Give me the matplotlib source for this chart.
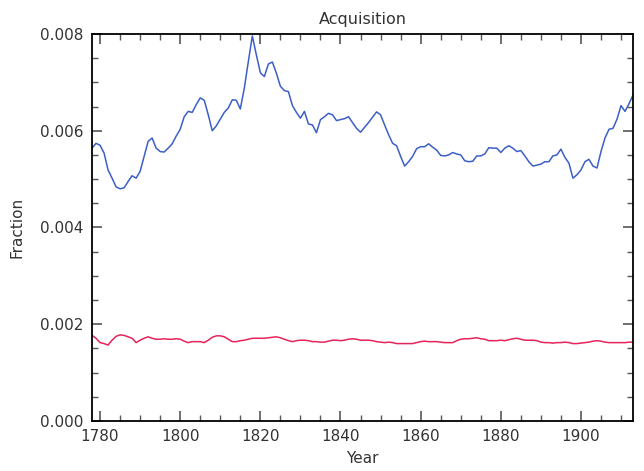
import numpy as np
import matplotlib
matplotlib.use('Agg')
import matplotlib.pyplot as plt
from matplotlib.ticker import MultipleLocator, FormatStrFormatter

# Jahre 1778..1913, Werte in Einheiten von 1e-3
years = np.arange(1778, 1914)

blue = [5.64, 5.74, 5.70, 5.54, 5.19, 5.02, 4.84, 4.80, 4.82, 4.95,
        5.07, 5.02, 5.16, 5.47, 5.78, 5.85, 5.64, 5.57, 5.56, 5.64,
        5.73, 5.89, 6.03, 6.29, 6.40, 6.38, 6.54, 6.68, 6.63, 6.33,
        6.00, 6.10, 6.24, 6.38, 6.47, 6.64, 6.63, 6.45, 6.88, 7.43,
        7.96, 7.57, 7.20, 7.12, 7.38, 7.42, 7.19, 6.92, 6.83, 6.81,
        6.52, 6.38, 6.26, 6.40, 6.14, 6.12, 5.96, 6.23, 6.29, 6.36,
        6.33, 6.21, 6.23, 6.25, 6.29, 6.17, 6.05, 5.97, 6.07, 6.17,
        6.28, 6.39, 6.33, 6.12, 5.92, 5.74, 5.69, 5.47, 5.27, 5.36,
        5.47, 5.63, 5.67, 5.67, 5.73, 5.66, 5.60, 5.49, 5.48, 5.50,
        5.55, 5.52, 5.50, 5.38, 5.36, 5.37, 5.48, 5.48, 5.52, 5.65,
        5.64, 5.64, 5.55, 5.64, 5.69, 5.64, 5.57, 5.59, 5.48, 5.36,
        5.27, 5.29, 5.31, 5.36, 5.36, 5.48, 5.50, 5.62, 5.45, 5.33,
        5.02, 5.09, 5.19, 5.36, 5.41, 5.27, 5.23, 5.57, 5.85, 6.03,
        6.05, 6.24, 6.52, 6.40, 6.56, 6.74]

red = [1.77, 1.71, 1.62, 1.60, 1.57, 1.67, 1.75, 1.78, 1.77, 1.74,
       1.71, 1.62, 1.67, 1.71, 1.74, 1.71, 1.69, 1.69, 1.70, 1.69,
       1.69, 1.70, 1.69, 1.65, 1.62, 1.64, 1.64, 1.64, 1.62, 1.67,
       1.73, 1.76, 1.76, 1.74, 1.69, 1.64, 1.64, 1.66, 1.67, 1.69,
       1.71, 1.71, 1.71, 1.71, 1.72, 1.73, 1.74, 1.72, 1.69, 1.66,
       1.64, 1.66, 1.67, 1.67, 1.66, 1.64, 1.64, 1.63, 1.63, 1.65,
       1.67, 1.67, 1.66, 1.67, 1.69, 1.70, 1.69, 1.67, 1.67, 1.67,
       1.66, 1.64, 1.63, 1.62, 1.63, 1.62, 1.60, 1.60, 1.60, 1.60,
       1.60, 1.62, 1.64, 1.65, 1.64, 1.64, 1.64, 1.63, 1.62, 1.62,
       1.62, 1.66, 1.69, 1.70, 1.70, 1.71, 1.72, 1.70, 1.69, 1.66,
       1.66, 1.66, 1.67, 1.66, 1.68, 1.70, 1.71, 1.69, 1.67, 1.67,
       1.67, 1.66, 1.63, 1.62, 1.62, 1.61, 1.62, 1.62, 1.63, 1.62,
       1.60, 1.60, 1.61, 1.62, 1.63, 1.65, 1.66, 1.65, 1.63, 1.62,
       1.62, 1.62, 1.62, 1.62, 1.63, 1.63]

blue = np.array(blue) * 1e-3
red = np.array(red) * 1e-3

fig = plt.figure(figsize=(6.44, 4.71), dpi=100)
ax = fig.add_axes([0.1429, 0.1062, 0.8401, 0.8216])

ax.plot(years, blue, color='#3c5fc6', lw=1.1)
ax.plot(years, red, color='#e6245a', lw=1.1)

ax.set_xlim(1778, 1913)
ax.set_ylim(0, 0.008)
ax.xaxis.set_major_locator(MultipleLocator(20))
ax.xaxis.set_minor_locator(MultipleLocator(5))
ax.yaxis.set_major_locator(MultipleLocator(0.002))
ax.yaxis.set_minor_locator(MultipleLocator(0.0005))
ax.yaxis.set_major_formatter(FormatStrFormatter('%.3f'))

ax.tick_params(which='both', direction='in', top=True, right=True,
               color='#555555', labelsize=11, labelcolor='#333333')
ax.tick_params(which='major', length=7.5, width=1.2, pad=6)
ax.tick_params(which='minor', length=4, width=1.0)
for s in ax.spines.values():
    s.set_linewidth(1.3)

ax.set_title('Acquisition', fontsize=11.5, color='#333333', pad=7)
ax.set_xlabel('Year', fontsize=11, color='#333333', labelpad=5)
ax.set_ylabel('Fraction', fontsize=11, color='#333333', labelpad=11)

plt.savefig('out.png', dpi=100)
